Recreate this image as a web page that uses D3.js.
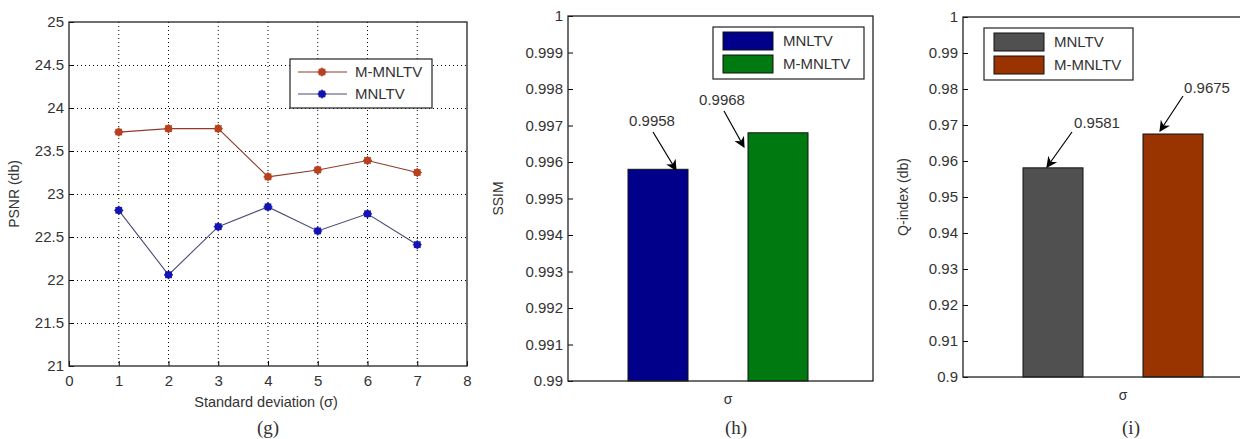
<!DOCTYPE html>
<html>
<head>
<meta charset="utf-8">
<script src="https://cdn.jsdelivr.net/npm/d3@7"></script>
<style>
body { margin: 0; background: #ffffff; }
svg { display: block; }
text { font-family: "Liberation Sans", Arial, sans-serif; fill: #333333; }
</style>
</head>
<body>
<script>
// panel (g): PSNR vs standard deviation
var sigmas = [1, 2, 3, 4, 5, 6, 7];
var psnrMMNLTV = [23.72, 23.76, 23.76, 23.2, 23.28, 23.39, 23.25];
var psnrMNLTV = [22.81, 22.06, 22.62, 22.85, 22.57, 22.77, 22.41];
var psnrTicks = [21, 21.5, 22, 22.5, 23, 23.5, 24, 24.5, 25];
var sigmaTicks = [0, 1, 2, 3, 4, 5, 6, 7, 8];

// panel (h): SSIM
var ssimNames = ["MNLTV", "M-MNLTV"];
var ssimValues = [0.9958, 0.9968];
var ssimTicks = [0.99, 0.991, 0.992, 0.993, 0.994, 0.995, 0.996, 0.997, 0.998, 0.999, 1];

// panel (i): Q-index
var qNames = ["MNLTV", "M-MNLTV"];
var qValues = [0.9581, 0.9675];
var qTicks = [0.9, 0.91, 0.92, 0.93, 0.94, 0.95, 0.96, 0.97, 0.98, 0.99, 1];

var svg = d3.select("body").append("svg")
	.attr("width", 1240)
	.attr("height", 439);

var defs = svg.append("defs");
defs.append("marker")
	.attr("id", "arrowhead")
	.attr("viewBox", "0 0 10 10")
	.attr("refX", 9)
	.attr("refY", 5)
	.attr("markerWidth", 13)
	.attr("markerHeight", 11)
	.attr("markerUnits", "userSpaceOnUse")
	.attr("orient", "auto")
	.append("path")
	.attr("d", "M0,0 L10,5 L0,10 L3,5 Z")
	.attr("fill", "#000");

function fmt(v) {
	return String(+v.toFixed(4));
}

var tickFont = "15px";

// ---------- (g) ----------
(function () {
	var left = 69, right = 467, top = 22, bottom = 366;
	var g = svg.append("g");
	var x = d3.scaleLinear().domain([0, 8]).range([left, right]);
	var y = d3.scaleLinear().domain([21, 25]).range([bottom, top]);

	// dotted grid
	g.selectAll(".vg").data(sigmaTicks.slice(1, -1)).enter().append("line")
		.attr("x1", function (d) { return x(d); })
		.attr("x2", function (d) { return x(d); })
		.attr("y1", top).attr("y2", bottom)
		.attr("stroke", "#000").attr("stroke-width", 1)
		.attr("stroke-dasharray", "1,3");
	g.selectAll(".hg").data(psnrTicks.slice(1, -1)).enter().append("line")
		.attr("y1", function (d) { return y(d) + 0.5; })
		.attr("y2", function (d) { return y(d) + 0.5; })
		.attr("x1", left).attr("x2", right)
		.attr("stroke", "#000").attr("stroke-width", 1)
		.attr("stroke-dasharray", "1,3");

	// axes
	var ax = d3.axisBottom(x).tickValues(sigmaTicks).tickSize(-5).tickPadding(7).tickFormat(d3.format("d"));
	var ay = d3.axisLeft(y).tickValues(psnrTicks).tickSize(-5).tickPadding(5).tickFormat(function (d) { return String(d); });
	var gx = g.append("g").attr("transform", "translate(0," + bottom + ")").call(ax);
	var gy = g.append("g").attr("transform", "translate(" + left + ",0)").call(ay);
	[gx, gy].forEach(function (a) {
		a.select(".domain").remove();
		a.selectAll("line").attr("stroke", "#000");
		a.selectAll("text").style("font-size", tickFont).attr("fill", "#333");
	});
	gx.selectAll("text").attr("dy", "0.85em");

	g.append("rect")
		.attr("x", left).attr("y", top)
		.attr("width", right - left).attr("height", bottom - top)
		.attr("fill", "none").attr("stroke", "#222").attr("stroke-width", 1.3);

	var series = [
		{ name: "M-MNLTV", values: psnrMMNLTV, line: "#8e3b2c", mark: "#b8401f" },
		{ name: "MNLTV", values: psnrMNLTV, line: "#4a4a78", mark: "#1414b4" }
	];
	var line = d3.line()
		.x(function (d, i) { return x(sigmas[i]); })
		.y(function (d) { return y(d); });

	function marker(sel, color) {
		sel.append("circle").attr("r", 3.8).attr("fill", color);
		sel.append("path").attr("d", "M-4.5,0H4.5M0,-4.5V4.5M-3.2,-3.2L3.2,3.2M-3.2,3.2L3.2,-3.2")
			.attr("stroke", color).attr("stroke-width", 1.2);
	}

	series.forEach(function (s) {
		g.append("path").datum(s.values)
			.attr("d", line)
			.attr("fill", "none")
			.attr("stroke", s.line)
			.attr("stroke-width", 1.1);
		g.selectAll(null).data(s.values).enter().append("g")
			.attr("transform", function (d, i) { return "translate(" + x(sigmas[i]) + "," + y(d) + ")"; })
			.each(function () { marker(d3.select(this), s.mark); });
	});

	// legend
	var lg = g.append("g").attr("transform", "translate(290,59)");
	lg.append("rect").attr("width", 142).attr("height", 49)
		.attr("fill", "#fff").attr("stroke", "#222").attr("stroke-width", 1.2);
	series.forEach(function (s, i) {
		var yy = 13 + i * 22;
		lg.append("line").attr("x1", 8).attr("x2", 57).attr("y1", yy).attr("y2", yy)
			.attr("stroke", s.line).attr("stroke-width", 1.1);
		marker(lg.append("g").attr("transform", "translate(32," + yy + ")"), s.mark);
		lg.append("text").attr("x", 65).attr("y", yy).attr("dy", "0.35em")
			.style("font-size", tickFont).text(s.name);
	});

	g.append("text").attr("transform", "translate(19," + ((top + bottom) / 2) + ") rotate(-90)")
		.attr("text-anchor", "middle").style("font-size", "14px").text("PSNR (db)");
	g.append("text").attr("x", x(4) - 2).attr("y", 407)
		.attr("text-anchor", "middle").style("font-size", "14.5px").text("Standard deviation (σ)");
	g.append("text").attr("x", 268).attr("y", 434)
		.attr("text-anchor", "middle").style("font-family", "'Liberation Serif', 'Times New Roman', serif")
		.style("font-size", "19px").attr("fill", "#000").text("(g)");
})();

// ---------- bar panels ----------
function barPanel(opt) {
	var left = opt.left, right = opt.left + 305, top = opt.top, bottom = opt.bottom;
	var g = svg.append("g");
	var y = d3.scaleLinear().domain(opt.domain).range([bottom, top]);
	var band = d3.scaleBand().domain(opt.names).range([left + 30, left + 270]).paddingInner(0.5).paddingOuter(0.25);

	g.selectAll(null).data(opt.values).enter().append("rect")
		.attr("x", function (d, i) { return band(opt.names[i]); })
		.attr("width", band.bandwidth())
		.attr("y", function (d) { return y(d); })
		.attr("height", function (d) { return bottom - y(d); })
		.attr("fill", function (d, i) { return opt.colors[i]; })
		.attr("stroke", "#111").attr("stroke-width", 1);

	var ay = d3.axisLeft(y).tickValues(opt.ticks).tickSize(-5).tickPadding(5).tickFormat(function (d) { return fmt(d); });
	var gy = g.append("g").attr("transform", "translate(" + left + ",0)").call(ay);
	gy.select(".domain").remove();
	gy.selectAll("line").attr("stroke", "#000");
	gy.selectAll("text").style("font-size", tickFont).attr("fill", "#333");

	g.append("rect")
		.attr("x", left).attr("y", top)
		.attr("width", right - left).attr("height", bottom - top)
		.attr("fill", "none").attr("stroke", "#222").attr("stroke-width", 1.3);

	// legend
	var lg = g.append("g").attr("transform", "translate(" + opt.legend[0] + "," + opt.legend[1] + ")");
	lg.append("rect").attr("width", opt.legend[2]).attr("height", 52)
		.attr("fill", "#fff").attr("stroke", "#222").attr("stroke-width", 1.2);
	opt.names.forEach(function (n, i) {
		lg.append("rect").attr("x", 10).attr("y", 5 + i * 23).attr("width", 50).attr("height", 18)
			.attr("fill", opt.colors[i]).attr("stroke", "#111");
		lg.append("text").attr("x", 70).attr("y", 14 + i * 23).attr("dy", "0.35em")
			.style("font-size", tickFont).text(n);
	});

	// value callouts
	opt.values.forEach(function (v, i) {
		var c = opt.callouts[i];
		g.append("line")
			.attr("x1", c[2]).attr("y1", c[3]).attr("x2", c[4]).attr("y2", c[5])
			.attr("stroke", "#000").attr("stroke-width", 1.2)
			.attr("marker-end", "url(#arrowhead)");
		g.append("text").attr("x", c[0]).attr("y", c[1]).attr("dy", "0.35em")
			.attr("text-anchor", "middle").style("font-size", tickFont).text(fmt(v));
	});

	g.append("text").attr("transform", "translate(" + opt.ylabelX + "," + ((top + bottom) / 2) + ") rotate(-90)")
		.attr("text-anchor", "middle").style("font-size", "14px").text(opt.ylabel);
	g.append("text").attr("x", left + 160).attr("y", opt.sigmaY)
		.attr("text-anchor", "middle").style("font-size", "14px").text("σ");
	g.append("text").attr("x", left + 168).attr("y", 434)
		.attr("text-anchor", "middle").style("font-family", "'Liberation Serif', 'Times New Roman', serif")
		.style("font-size", "19px").attr("fill", "#000").text(opt.tag);
}

barPanel({
	left: 568, top: 16, bottom: 381,
	domain: [0.99, 1], ticks: ssimTicks, names: ssimNames, values: ssimValues,
	colors: ["#00008a", "#007a10"],
	legend: [713, 27, 151],
	callouts: [[652, 121, 653, 132, 676, 170], [722, 100, 724, 111, 744, 147]],
	ylabel: "SSIM", ylabelX: 503, sigmaY: 404, tag: "(h)"
});

barPanel({
	left: 963, top: 17, bottom: 377,
	domain: [0.9, 1], ticks: qTicks, names: qNames, values: qValues,
	colors: ["#505050", "#993300"],
	legend: [984, 28, 149],
	callouts: [[1097, 123, 1072, 132, 1047, 167], [1207, 88, 1183, 96, 1160, 131]],
	ylabel: "Q-index (db)", ylabelX: 908, sigmaY: 400, tag: "(i)"
});
</script>
</body>
</html>
